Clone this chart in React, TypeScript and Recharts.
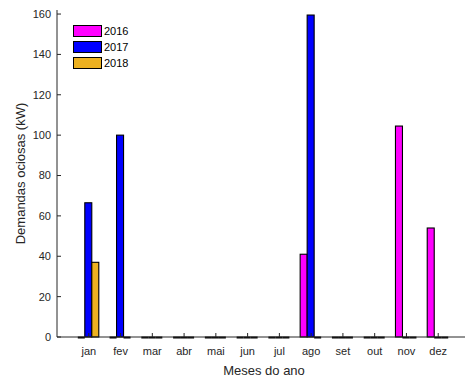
import React from 'react';
import { BarChart, Bar, XAxis, YAxis, Legend, Label } from 'recharts';

const months = ['jan', 'fev', 'mar', 'abr', 'mai', 'jun', 'jul', 'ago', 'set', 'out', 'nov', 'dez'];
const s2016 = [0, 0, 0, 0, 0, 0, 0, 41, 0, 0, 104.5, 54];
const s2017 = [66.5, 100, 0, 0, 0, 0, 0, 159.5, 0, 0, 0, 0];
const s2018 = [37, 0, 0, 0, 0, 0, 0, 0, 0, 0, 0, 0];
const yTicks = [0, 20, 40, 60, 80, 100, 120, 140, 160];
const seriesNames = ['2016', '2017', '2018'];
const seriesKeys = ['y2016', 'y2017', 'y2018'];
const seriesColors = ['#FF00FF', '#0000FF', '#EDB120'];

const data = months.map((m, i) => ({ month: m, y2016: s2016[i], y2017: s2017[i], y2018: s2018[i] }));

const FONT = '"Liberation Sans", Arial, sans-serif';
const AXIS = '#262626';
const BASE_Y = 337;

const makeShape = (key: string) => (props: any) => {
  const { x, y, width, height, fill, payload } = props;
  const v = payload ? payload[key] : undefined;
  if (v === 0 || !height) {
    return <line x1={x} x2={x + width} y1={BASE_Y + 0.5} y2={BASE_Y + 0.5} stroke="#000" strokeWidth={2} />;
  }
  return <rect x={x} y={y} width={width} height={height} fill={fill} stroke="#000" strokeWidth={1.1} />;
};

const BottomTick = (props: any) => {
  const { x, y, payload } = props;
  return (
    <g>
      <line x1={x} x2={x} y1={y} y2={y - 4} stroke={AXIS} strokeWidth={1} />
      <text x={x} y={y + 18} textAnchor="middle" fontSize={11} fill={AXIS} fontFamily={FONT}>
        {payload.value}
      </text>
    </g>
  );
};

const TopTick = (props: any) => {
  const { x, y } = props;
  return <line x1={x} x2={x} y1={y} y2={y + 4} stroke={AXIS} strokeWidth={1} />;
};

const LeftTick = (props: any) => {
  const { x, y, payload } = props;
  return (
    <g>
      <line x1={x} x2={x + 4} y1={y} y2={y} stroke={AXIS} strokeWidth={1} />
      <text x={x - 6} y={y} dy="0.36em" textAnchor="end" fontSize={11} fill={AXIS} fontFamily={FONT}>
        {payload.value}
      </text>
    </g>
  );
};

const LegendContent = () => (
  <div style={{ fontFamily: FONT, fontSize: 11, color: '#000' }}>
    {seriesNames.map((n, i) => (
      <div key={n} style={{ display: 'flex', alignItems: 'center', height: 16 }}>
        <div
          style={{
            width: 27,
            height: 10,
            background: seriesColors[i],
            border: '1px solid #000',
            marginRight: 2,
          }}
        />
        <span>{n}</span>
      </div>
    ))}
  </div>
);

export default function App() {
  return (
    <div style={{ position: 'absolute', left: 0, top: 0, width: 465, height: 378, overflow: 'hidden', background: '#fff' }}>
      <BarChart
        width={480}
        height={378}
        data={data}
        margin={{ top: 10, right: 10, left: 0, bottom: 0 }}
        barCategoryGap="15.4%"
        barGap={0}
      >
        <XAxis
          xAxisId="top"
          orientation="top"
          dataKey="month"
          height={0}
          padding={{ left: 15.9, right: 15.9 }}
          axisLine={{ stroke: AXIS, strokeWidth: 1 }}
          tickLine={false}
          tickSize={0}
          tickMargin={0}
          tick={<TopTick />}
          interval={0}
        />
        <XAxis
          dataKey="month"
          height={41}
          padding={{ left: 15.9, right: 15.9 }}
          axisLine={{ stroke: AXIS, strokeWidth: 1 }}
          tickLine={false}
          tickSize={0}
          tickMargin={0}
          tick={<BottomTick />}
          interval={0}
        >
          <Label
            content={() => (
              <text x={264} y={375} textAnchor="middle" fontSize={13} fill={AXIS} fontFamily={FONT}>
                Meses do ano
              </text>
            )}
          />
        </XAxis>
        <YAxis
          width={57}
          domain={[0, 162]}
          ticks={yTicks}
          axisLine={{ stroke: AXIS, strokeWidth: 1 }}
          tickLine={false}
          tickSize={0}
          tickMargin={0}
          tick={<LeftTick />}
          interval={0}
        >
          <Label
            content={() => (
              <text
                x={25}
                y={173.5}
                transform="rotate(-90 25 173.5)"
                textAnchor="middle"
                fontSize={13}
                fill={AXIS}
                fontFamily={FONT}
              >
                Demandas ociosas (kW)
              </text>
            )}
          />
        </YAxis>
        <Legend
          layout="vertical"
          align="center"
          verticalAlign="middle"
          content={<LegendContent />}
          wrapperStyle={{ left: 73, top: 23, width: 'auto', height: 'auto' }}
        />
        {seriesKeys.map((k, i) => (
          <Bar
            key={k}
            dataKey={k}
            name={seriesNames[i]}
            fill={seriesColors[i]}
            minPointSize={1}
            shape={makeShape(k)}
            isAnimationActive={false}
          />
        ))}
      </BarChart>
    </div>
  );
}
